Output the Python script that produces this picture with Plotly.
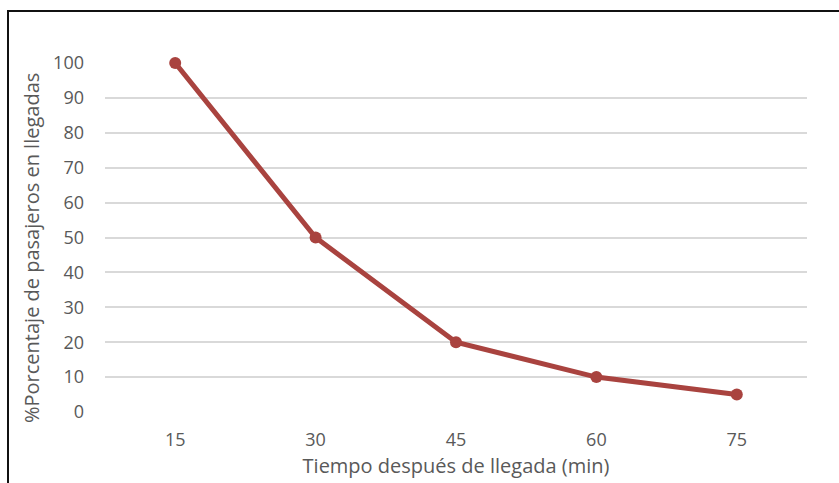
import plotly.graph_objects as go

# Tiempo después de llegada (min) vs. porcentaje de pasajeros
tiempos = ["15", "30", "45", "60", "75"]
porcentaje = [100, 50, 20, 10, 5]
y_ticks = [0, 10, 20, 30, 40, 50, 60, 70, 80, 90, 100]

W, H = 839, 483
L, R, T, B = 105, 32, 63, 71
pw, ph = W - L - R, H - T - B

fig = go.Figure()
fig.add_trace(go.Scatter(
    x=tiempos, y=porcentaje, mode="lines+markers",
    line=dict(color="#A9433F", width=5),
    marker=dict(color="#A9433F", size=12),
    showlegend=False, cliponaxis=False,
))

font = dict(family="Open Sans, Noto Sans, sans-serif", color="#595959")

fig.update_layout(
    width=W, height=H,
    margin=dict(l=L, r=R, t=T, b=B, autoexpand=False),
    paper_bgcolor="white", plot_bgcolor="white",
    xaxis=dict(
        type="category", range=[-0.5, 4.5], automargin=False,
        showgrid=False, zeroline=False, showline=False, ticks="",
        tickfont=dict(size=18, **font), ticklabelstandoff=15,
        title=dict(text="Tiempo después de llegada (min)", font=dict(size=20, **font), standoff=8),
    ),
    yaxis=dict(
        range=[0, 100], tickvals=y_ticks, automargin=False,
        showgrid=True, gridcolor="#D9D9D9", gridwidth=1.5,
        zeroline=False, showline=False, ticks="",
        tickfont=dict(size=18, **font), ticklabelstandoff=20,
    ),
)

# Título vertical del eje Y, algo desplazado hacia abajo
fig.add_annotation(
    text="%Porcentaje de pasajeros en llegadas", textangle=-90,
    xref="paper", yref="paper",
    x=(31 - L) / pw, y=(H - B - 248) / ph,
    xanchor="center", yanchor="middle", showarrow=False,
    font=dict(size=20, **font),
)

# Marco exterior (solo bordes izquierdo y superior visibles)
fig.add_shape(
    type="rect", xref="paper", yref="paper",
    x0=(8 - L) / pw, x1=(W + 10 - L) / pw,
    y0=-(H + 10 - T - ph) / ph, y1=(H - B - 11) / ph,
    line=dict(color="#111111", width=2), fillcolor="rgba(0,0,0,0)", layer="above",
)

fig.write_html("out.html")
